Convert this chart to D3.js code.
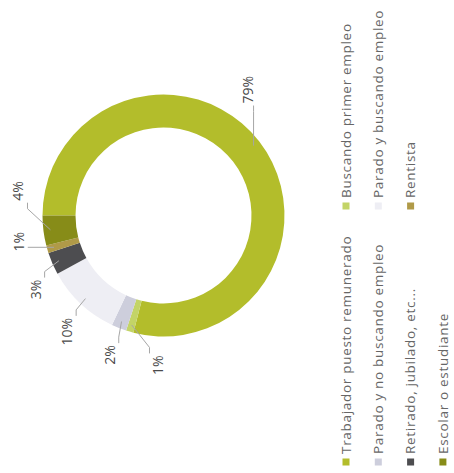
<!DOCTYPE html>
<html>
<head>
<meta charset="utf-8">
<script src="https://cdn.jsdelivr.net/npm/d3@7"></script>
<style>
  html, body { margin: 0; padding: 0; background: #fff; }
  svg { display: block; }
</style>
</head>
<body>
<svg id="chart" width="454" height="473"></svg>
<script>
// Situación laboral: share of each group (percent)
const categories = [
  "Trabajador puesto remunerado",
  "Buscando primer empleo",
  "Parado y no buscando empleo",
  "Parado y buscando empleo",
  "Retirado, jubilado, etc...",
  "Rentista",
  "Escolar o estudiante"
];
const shares = [79, 1, 2, 10, 3, 1, 4];
const sliceColors = ["#b3bd2b", "#c3d467", "#cdcedc", "#eeeef4", "#4d4d50", "#b09a48", "#878c18"];

// The whole figure is laid out on a 473 x 454 sheet turned a quarter turn counter-clockwise
const sheetW = 473, sheetH = 454;
const svg = d3.select("#chart");
const sheet = svg.append("g").attr("transform", `translate(0,${sheetW}) rotate(-90)`);

const cx = 257.5, cy = 163.5;
const outerR = 121, innerR = 88;
const labelR = 140;
const fontFamily = "'Open Sans', 'Noto Sans', sans-serif";

const pie = d3.pie().sort(null).value(d => d);
const arcs = pie(shares);
const arc = d3.arc().innerRadius(innerR).outerRadius(outerR);
const colorScale = d3.scaleOrdinal().domain(categories).range(sliceColors);
const pct = v => d3.format("d")(v) + "%";

const ring = sheet.append("g").attr("transform", `translate(${cx},${cy})`);
ring.selectAll("path.slice")
  .data(arcs)
  .join("path")
  .attr("class", "slice")
  .attr("d", arc)
  .attr("fill", (d, i) => colorScale(categories[i]));

// label angles: big slice label sits a little before its middle, small ones are spread apart
const total = d3.sum(shares);
const items = arcs.map((d, i) => {
  const mid = (d.startAngle + d.endAngle) / 2;
  const big = d.value / total > 0.5;
  return {
    i, mid, big,
    angle: big ? d.startAngle + 0.44 * (d.endAngle - d.startAngle) : mid
  };
});

const gap = 19.5 * Math.PI / 180;
let clusters = items.filter(d => !d.big)
  .sort((a, b) => a.angle - b.angle)
  .map(d => ({ members: [d], center: d.angle }));
let merged = true;
while (merged) {
  merged = false;
  for (let k = 0; k < clusters.length - 1; k++) {
    const a = clusters[k], b = clusters[k + 1];
    const aEnd = a.center + (a.members.length - 1) * gap / 2;
    const bStart = b.center - (b.members.length - 1) * gap / 2;
    if (bStart - aEnd < gap) {
      const members = a.members.concat(b.members);
      clusters.splice(k, 2, { members, center: d3.mean(members, m => m.angle) });
      merged = true;
      break;
    }
  }
}
clusters.forEach(c => c.members.forEach((m, k) => {
  m.angle = c.center + (k - (c.members.length - 1) / 2) * gap;
}));

const labelLayer = ring.append("g");
const lineLayer = ring.insert("g", () => labelLayer.node());

items.forEach(it => {
  const text = labelLayer.append("text")
    .attr("font-family", fontFamily)
    .attr("font-size", 14)
    .attr("fill", "#4a4a4a")
    .attr("text-anchor", "middle")
    .attr("dy", "0.35em")
    .text(pct(shares[it.i]));
  const w = text.node().getComputedTextLength();
  const h = 14;
  const sx = Math.sin(it.angle), sy = -Math.cos(it.angle);
  const lx = labelR * sx + sx * w / 2;
  const ly = labelR * sy + sy * h / 2;
  text.attr("x", lx).attr("y", ly);

  // leader line from inside the slice to the nearest side of the label
  const tx = (outerR - 7) * Math.sin(it.mid);
  const ty = -(outerR - 7) * Math.cos(it.mid);
  const pad = 2;
  const x0 = lx - w / 2 - pad, x1 = lx + w / 2 + pad;
  const y0 = ly - h / 2 - pad, y1 = ly + h / 2 + pad;
  const qx = Math.max(x0, Math.min(x1, tx));
  const qy = Math.max(y0, Math.min(y1, ty));
  const pts = [[tx, ty]];
  if (qx === x0 || qx === x1) {
    const dir = qx === x0 ? -1 : 1;
    pts.push([qx + dir * 6, qy]);
  }
  pts.push([qx, qy]);
  lineLayer.append("path")
    .attr("d", d3.line()(pts))
    .attr("fill", "none")
    .attr("stroke", "#a6a6a6")
    .attr("stroke-width", 1);
});

// legend: two columns, four rows
const legendCols = [11, 267];
const legendTop = 346, legendStep = 32.3;
const legend = sheet.append("g");
categories.forEach((c, i) => {
  const col = i % 2, row = Math.floor(i / 2);
  const mx = legendCols[col], my = legendTop + row * legendStep;
  legend.append("rect")
    .attr("x", mx - 3.5).attr("y", my - 3.5)
    .attr("width", 7).attr("height", 7)
    .attr("fill", colorScale(c));
  legend.append("text")
    .attr("x", mx + 8)
    .attr("y", my)
    .attr("dy", "0.35em")
    .attr("font-family", fontFamily)
    .attr("font-size", 13.5)
    .attr("letter-spacing", 0.7)
    .attr("fill", "#666666")
    .text(c);
});
</script>
</body>
</html>
